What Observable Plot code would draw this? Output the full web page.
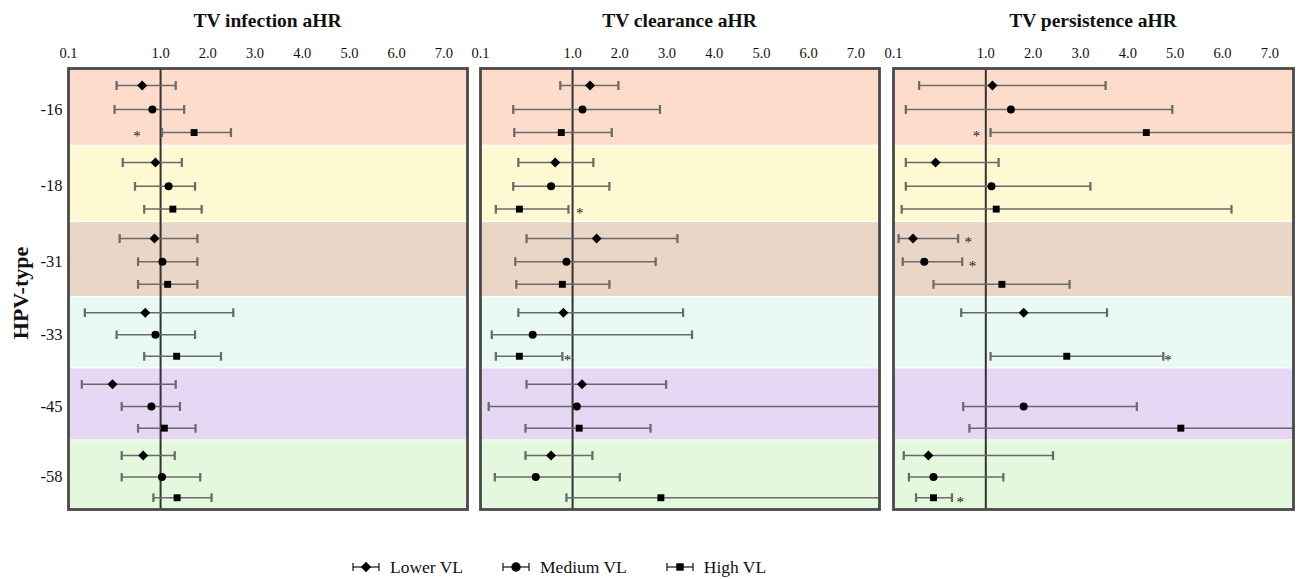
<!DOCTYPE html>
<html>
<head>
<meta charset="utf-8">
<script src="https://cdn.jsdelivr.net/npm/d3@7"></script>
<script src="https://cdn.jsdelivr.net/npm/@observablehq/plot@0.6"></script>
<style>
  body { margin: 0; background: #fff; font-family: "Liberation Serif", "Times New Roman", serif; color: #111; }
  #root { position: relative; width: 1300px; height: 579px; overflow: hidden; }
  .panel { position: absolute; top: 0; }
  .title { height: 42px; line-height: 42px; font-weight: bold; font-size: 19.5px; text-align: center; color: #111; white-space: nowrap; }
  .panel svg { display: block; }
  #legend { position: absolute; left: 352px; top: 555px; height: 24px; display: flex; align-items: center; gap: 39px; font-size: 17.5px; line-height: 24px; color: #111; }
  .item { display: flex; align-items: center; gap: 10px; }
</style>
</head>
<body>
<div id="root"><div id="legend"></div></div>
<script>
// ---- categories ----
const hpvTypes = ["-16", "-18", "-31", "-33", "-45", "-58"];
const levels = ["Lower VL", "Medium VL", "High VL"];
const panelTitles = ["TV infection aHR", "TV clearance aHR", "TV persistence aHR"];
const bandColors = ["#fddccb", "#fef8d3", "#ead6c7", "#e8faf3", "#e6d7f5", "#e3f8dc"];
const xTicks = [0.1, 1, 2, 3, 4, 5, 6, 7];

// ---- values (rows: each HPV type x Lower / Medium / High VL) ----
const infectionEst = [0.82, 0.92, 1.71, 0.95, 1.17, 1.26, 0.94, 1.04, 1.15, 0.85, 0.95, 1.34, 0.53, 0.91, 1.08, 0.83, 1.03, 1.35];
const infectionLo  = [0.57, 0.55, 1.03, 0.63, 0.75, 0.84, 0.60, 0.78, 0.78, 0.26, 0.57, 0.84, 0.23, 0.62, 0.78, 0.62, 0.62, 0.93];
const infectionHi  = [1.32, 1.50, 2.49, 1.45, 1.73, 1.87, 1.78, 1.78, 1.78, 2.54, 1.73, 2.28, 1.32, 1.41, 1.74, 1.30, 1.84, 2.08];

const clearanceEst = [1.37, 1.21, 0.89, 0.83, 0.79, 0.48, 1.51, 0.94, 0.90, 0.91, 0.61, 0.48, 1.20, 1.09, 1.14, 0.79, 0.64, 2.87];
const clearanceLo  = [0.88, 0.42, 0.43, 0.47, 0.42, 0.25, 0.55, 0.44, 0.45, 0.47, 0.21, 0.25, 0.55, 0.18, 0.54, 0.54, 0.24, 0.94];
const clearanceHi  = [1.97, 2.85, 1.83, 1.44, 1.78, 0.96, 3.22, 2.76, 1.78, 3.34, 3.53, 0.90, 2.98, 8.5, 2.65, 1.42, 2.00, 8.5];

const persistenceEst = [1.14, 1.53, 4.39, 0.51, 1.12, 1.22, 0.29, 0.40, 1.34, 1.80, null, 2.71, null, 1.80, 5.12, 0.44, 0.49, 0.49];
const persistenceLo  = [0.35, 0.22, 1.10, 0.22, 0.22, 0.18, 0.15, 0.19, 0.49, 0.76, null, 1.10, null, 0.78, 0.84, 0.20, 0.25, 0.32];
const persistenceHi  = [3.53, 4.94, 8.5, 1.27, 3.21, 6.19, 0.73, 0.77, 2.77, 3.56, null, 4.75, null, 4.19, 8.5, 2.42, 1.37, 0.67];

// ---- significance markers (*) ----
const sigPanel = [0, 1, 1, 2, 2, 2, 2, 2];
const sigType  = ["-16", "-18", "-33", "-16", "-31", "-31", "-33", "-58"];
const sigLevel = ["High VL", "High VL", "High VL", "High VL", "Lower VL", "Medium VL", "High VL", "High VL"];
const sigX     = [0.77, 1.15, 0.95, 0.91, 0.83, 0.87, 4.85, 0.75];

// ---- axis geometry: the 0.1..1.0 segment is drawn about 1.95 units wide, above 1.0 the axis is linear ----
const breakUnits = 1.95;
const axisPos = v => (v >= 1 ? v : 1 - (1 - v) / 0.9 * breakUnits);
const tickLabel = new Map(xTicks.map(t => [axisPos(t), d3.format(".1f")(t)]));

// ---- vertical layout: band edges (in band units) and row placement inside each band ----
const bandEdges = [0, 1.05, 2.09, 3.11, 4.08, 5.06, 6];
const rowOffset = [0.22, 0.53, 0.83];
const rowPos = (type, level) => {
  const i = hpvTypes.indexOf(type);
  return bandEdges[i] + rowOffset[levels.indexOf(level)] * (bandEdges[i + 1] - bandEdges[i]);
};

// ---- build tables ----
const panelSeries = [
  [infectionEst, infectionLo, infectionHi],
  [clearanceEst, clearanceLo, clearanceHi],
  [persistenceEst, persistenceLo, persistenceHi]
];
function rowsFor(p) {
  const [est, lo, hi] = panelSeries[p];
  const out = [];
  hpvTypes.forEach((t, i) => levels.forEach((l, j) => {
    const k = i * 3 + j;
    if (est[k] != null) out.push({type: t, level: l, est: est[k], lo: lo[k], hi: hi[k],
      xEst: axisPos(est[k]), xLo: axisPos(lo[k]), xHi: axisPos(hi[k]), pos: rowPos(t, l)});
  }));
  return out;
}
const bands = hpvTypes.map((t, i) => ({type: t, i0: bandEdges[i], i1: bandEdges[i + 1], color: bandColors[i]}));
const yLabelPos = hpvTypes.map(t => rowPos(t, "Medium VL"));
const yLabel = new Map(yLabelPos.map((v, i) => [v, hpvTypes[i]]));

const geometry = [
  {left: 0, width: 470, ml: 68, mr: 3, yAxis: true},
  {left: 470, width: 420, ml: 10, mr: 11, yAxis: false},
  {left: 880, width: 420, ml: 13, mr: 7, yAxis: false}
];
const symbols = ["diamond2", "circle", "square"];
const symbolR = [4.5, 4, 3.9];

const root = document.getElementById("root");
geometry.forEach((g, p) => {
  const wrap = document.createElement("div");
  wrap.className = "panel";
  wrap.style.left = g.left + "px";
  wrap.style.width = g.width + "px";
  const title = document.createElement("div");
  title.className = "title";
  title.style.paddingLeft = g.ml + "px";
  title.style.paddingRight = g.mr + "px";
  title.textContent = panelTitles[p];
  wrap.appendChild(title);

  const rows = rowsFor(p);
  const sig = sigPanel.map((pp, k) => ({p: pp, x: axisPos(sigX[k]), pos: rowPos(sigType[k], sigLevel[k])})).filter(d => d.p === p);

  const marks = [
    Plot.rect(bands, {y1: "i0", y2: "i1", fill: "color", insetTop: 0.5, insetBottom: 0.5}),
    Plot.ruleX([axisPos(1)], {stroke: "#333", strokeWidth: 2}),
    Plot.link(rows, {x1: "xLo", x2: "xHi", y1: "pos", y2: "pos", stroke: "#6a6a6a", strokeWidth: 1.5, markerStart: "tick", markerEnd: "tick", clip: true}),
    ...levels.map((l, j) => Plot.dot(rows.filter(d => d.level === l), {x: "xEst", y: "pos", symbol: symbols[j], fill: "#000", r: symbolR[j]})),
    Plot.text(sig, {x: "x", y: "pos", text: () => "*", fontSize: 15, dy: 4, fill: "#222"}),
    Plot.frame({stroke: "#4a4a4a", strokeWidth: 2.8}),
    Plot.axisX(xTicks.map(axisPos), {anchor: "top", tickSize: 0, tickPadding: 11, tickFormat: d => tickLabel.get(d), fontSize: 14.5, label: null})
  ];
  if (g.yAxis) {
    marks.push(Plot.axisY(yLabelPos, {tickSize: 0, tickPadding: 6, tickFormat: d => yLabel.get(d), fontSize: 16.5, label: null}));
    marks.push(Plot.text(["HPV-type"], {frameAnchor: "left", dx: -48, dy: 4, rotate: -90, textAnchor: "middle", text: d => d, fontWeight: "bold", fontSize: 22}));
  }

  const chart = Plot.plot({
    width: g.width,
    height: 478,
    marginLeft: g.ml,
    marginRight: g.mr,
    marginTop: 26,
    marginBottom: 11,
    x: {domain: [axisPos(0.1), 7.5]},
    y: {domain: [0, 6], reverse: true, axis: g.yAxis ? undefined : null},
    color: {type: "identity"},
    style: {fontFamily: "'Liberation Serif', 'Times New Roman', serif", fontSize: "14.5px", color: "#111", background: "transparent", overflow: "visible"},
    marks
  });
  wrap.appendChild(chart);
  root.appendChild(wrap);
});

// ---- legend ----
const legend = document.getElementById("legend");
const legendShapes = [d3.symbolDiamond2, d3.symbolCircle, d3.symbolSquare];
const legendSizes = [70, 70, 55];
levels.forEach((l, j) => {
  const item = document.createElement("div");
  item.className = "item";
  const ns = "http://www.w3.org/2000/svg";
  const svg = document.createElementNS(ns, "svg");
  svg.setAttribute("width", 28);
  svg.setAttribute("height", 16);
  const path = d3.symbol(legendShapes[j], legendSizes[j])();
  svg.innerHTML =
    `<line x1="1" x2="27" y1="8" y2="8" stroke="#222" stroke-width="1.3"/>` +
    `<line x1="1" x2="1" y1="4" y2="12" stroke="#222" stroke-width="1.3"/>` +
    `<line x1="27" x2="27" y1="4" y2="12" stroke="#222" stroke-width="1.3"/>` +
    `<path d="${path}" transform="translate(14,8)" fill="#000"/>`;
  const span = document.createElement("span");
  span.textContent = l;
  item.appendChild(svg);
  item.appendChild(span);
  legend.appendChild(item);
});
</script>
</body>
</html>
